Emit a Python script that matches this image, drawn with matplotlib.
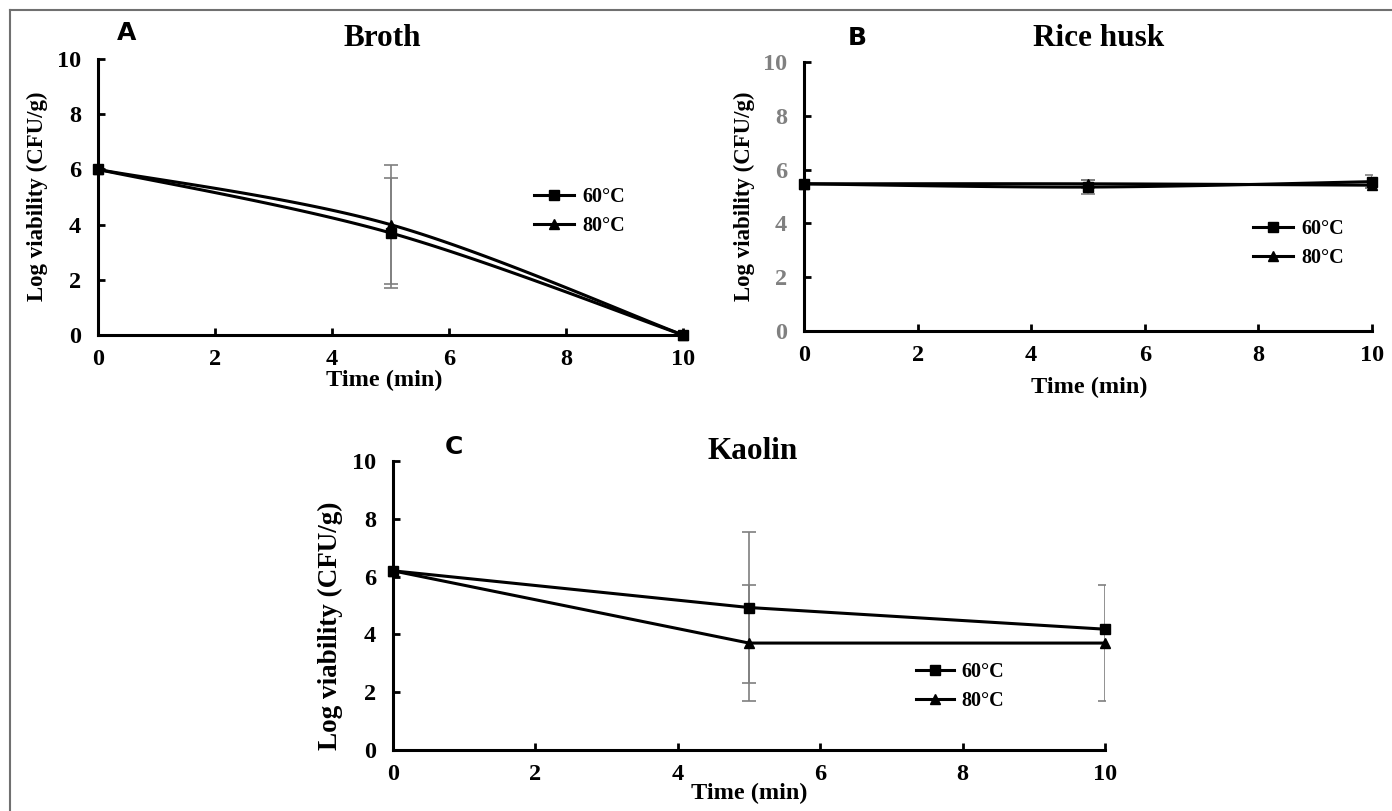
import numpy as np
import matplotlib
matplotlib.use("Agg")
import matplotlib.pyplot as plt
from matplotlib.lines import Line2D

# data
time_min = [0, 5, 10]

broth_60 = [6.0, 3.7, 0.0]
broth_80 = [6.0, 4.0, 0.0]
broth_60_err = [0, 2.0, 0]
broth_80_err = [0, 2.15, 0]

husk_60 = [5.47, 5.35, 5.55]
husk_80 = [5.47, 5.47, 5.42]
husk_60_err = [0, 0.25, 0.25]
husk_80_err = [0, 0.15, 0.1]

kaolin_60 = [6.2, 4.93, 4.18]
kaolin_80 = [6.2, 3.7, 3.7]
kaolin_60_err = [0, 2.62, 0]
kaolin_80_err = [0, 2.0, 2.0]

labels = ["60°C", "80°C"]
ticks = [0, 2, 4, 6, 8, 10]

serif = "Liberation Serif"
plt.rcParams["font.family"] = serif
plt.rcParams["font.weight"] = "bold"


def smooth(x, y, n=60):
    # excel style bezier smoothing through the points
    p = np.column_stack([x, y]).astype(float)
    ext = np.vstack([p[0], p, p[-1]])
    out = []
    t = np.linspace(0, 1, n)[:, None]
    for i in range(len(p) - 1):
        p0, p1 = p[i], p[i + 1]
        c1 = p0 + (ext[i + 2] - ext[i]) / 6
        c2 = p1 - (ext[i + 3] - ext[i + 1]) / 6
        seg = ((1 - t) ** 3) * p0 + 3 * ((1 - t) ** 2) * t * c1 + 3 * (1 - t) * t ** 2 * c2 + t ** 3 * p1
        out.append(seg)
    out = np.vstack(out)
    return out[:, 0], out[:, 1]


def panel(ax, s60, s80, e60, e80, smooth_lines, leg_xy, xl_xy, yl_xy, ytick_color="black",
          hl=2.0, ylab_size=16.5):
    x = np.array(time_min)
    for s, e in ((s60, e60), (s80, e80)):
        e = np.array(e)
        m = e > 0
        ax.errorbar(x[m], np.array(s)[m], yerr=e[m], fmt="none", ecolor="#7f7f7f",
                    elinewidth=1.2, capsize=5, capthick=1.2, zorder=2)
    for s, mk in ((s80, "^"), (s60, "s")):
        if smooth_lines:
            sx, sy = smooth(x, s)
            ax.plot(sx, sy, color="black", lw=2.2, zorder=3, clip_on=False)
            ax.plot(x, s, ls="none", marker=mk, ms=7.5, color="black", zorder=4, clip_on=False)
        else:
            ax.plot(x, s, ls="-", marker=mk, ms=7.5, lw=2.2, color="black", zorder=3, clip_on=False)
    ax.set_xlim(0, 10)
    ax.set_ylim(0, 10)
    ax.set_xticks(ticks)
    ax.set_yticks(ticks)
    for sp in ("top", "right"):
        ax.spines[sp].set_visible(False)
    for sp in ("left", "bottom"):
        ax.spines[sp].set_linewidth(2.2)
    ax.tick_params(axis="both", direction="in", length=5, width=2, labelsize=17.5)
    ax.tick_params(axis="x", pad=10)
    ax.tick_params(axis="y", pad=12, labelcolor=ytick_color)
    ax.set_xlabel("Time (min)", fontsize=17.5, fontweight="bold")
    ax.set_ylabel("Log viability (CFU/g)", fontsize=ylab_size, fontweight="bold")
    ax.xaxis.set_label_coords(*xl_xy)
    ax.yaxis.set_label_coords(*yl_xy)
    handles = [Line2D([], [], color="black", lw=2.2, marker="s", ms=7.5),
               Line2D([], [], color="black", lw=2.2, marker="^", ms=7.5)]
    ax.legend(handles, labels, loc="center left", bbox_to_anchor=leg_xy, frameon=False,
              handlelength=hl, handletextpad=0.4, labelspacing=0.45,
              borderpad=0, borderaxespad=0, prop={"family": serif, "weight": "bold", "size": 14.5})


fig = plt.figure(figsize=(13.92, 8.11), dpi=100)
ax_a = fig.add_axes([0.0704, 0.5869, 0.4203, 0.3403])
ax_b = fig.add_axes([0.5776, 0.5919, 0.4080, 0.3317])
ax_c = fig.add_axes([0.2823, 0.0752, 0.5115, 0.3564])

panel(ax_a, broth_60, broth_80, broth_60_err, broth_80_err, True,
      (0.745, 0.447), (0.489, -0.126), (-0.085, 0.504))
panel(ax_b, husk_60, husk_80, husk_60_err, husk_80_err, True,
      (0.790, 0.325), (0.502, -0.172), (-0.086, 0.502), ytick_color="#808080")
panel(ax_c, kaolin_60, kaolin_80, kaolin_60_err, kaolin_80_err, False,
      (0.735, 0.220), (0.501, -0.112), (-0.070, 0.43), hl=1.85, ylab_size=19.5)

# panel titles and letters
fig.text(0.275, 0.953, "Broth", fontsize=22.5, fontweight="bold", ha="center", va="center")
fig.text(0.789, 0.953, "Rice husk", fontsize=22.5, fontweight="bold", ha="center", va="center")
fig.text(0.541, 0.443, "Kaolin", fontsize=22.5, fontweight="bold", ha="center", va="center")
for x, y, t in ((0.091, 0.959, "A"), (0.616, 0.953, "B"), (0.326, 0.449, "C")):
    fig.text(x, y, t, fontsize=18, fontweight="bold", family="DejaVu Sans", ha="center", va="center")

# thin grey frame on the left and top
fig.add_artist(Line2D([0.0075, 0.0075], [0, 0.988], color="#707070", lw=1.5))
fig.add_artist(Line2D([0.0075, 1], [0.988, 0.988], color="#707070", lw=1.5))

fig.savefig("out.png", dpi=100)
